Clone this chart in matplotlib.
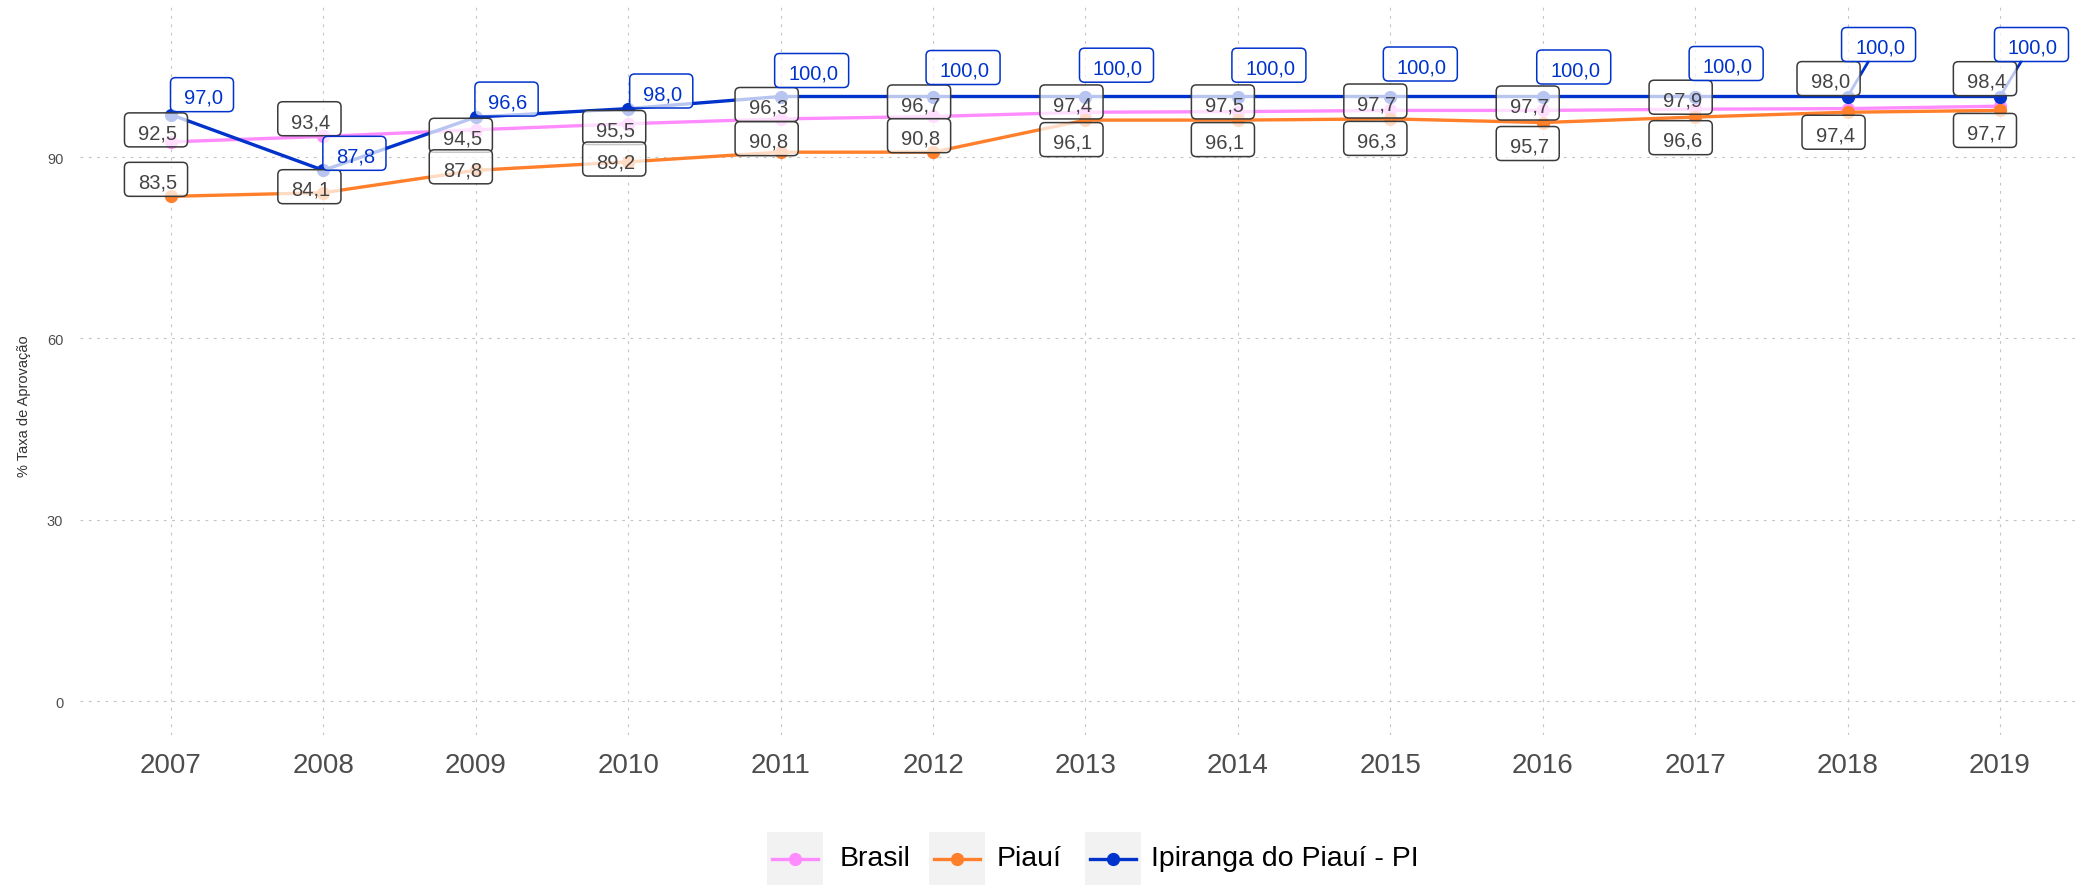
import matplotlib
matplotlib.use("Agg")
import matplotlib.pyplot as plt
from matplotlib.patches import FancyBboxPatch, Rectangle
from matplotlib.lines import Line2D
from matplotlib.transforms import IdentityTransform

plt.rcParams['font.family'] = ['Liberation Sans', 'DejaVu Sans']
plt.rcParams['lines.scale_dashes'] = False

# ------------------ Dados ------------------
anos = [2007, 2008, 2009, 2010, 2011, 2012, 2013, 2014, 2015, 2016, 2017, 2018, 2019]
brasil = [92.5, 93.4, 94.5, 95.5, 96.3, 96.7, 97.4, 97.5, 97.7, 97.7, 97.9, 98.0, 98.4]
piaui = [83.5, 84.1, 87.8, 89.2, 90.8, 90.8, 96.1, 96.1, 96.3, 95.7, 96.6, 97.4, 97.7]
ipiranga = [97.0, 87.8, 96.6, 98.0, 100.0, 100.0, 100.0, 100.0, 100.0, 100.0, 100.0, 100.0, 100.0]
nomes = ['Brasil', 'Piauí', 'Ipiranga do Piauí - PI']
cores = ['#FF8CFF', '#FF7F2A', '#0033CC']

# deslocamento dos rótulos (pixels, x para a direita, y para cima)
desl_brasil = [(-15, 12), (-14, 17.7), (-15, -5.5), (-14, -3.8), (-14, 14.4), (-14, 14.5), (-14, 10.3),
               (-15, 9.7), (-15, 9.4), (-15, 7.4), (-14.5, 12), (-19, 30), (-15, 27.5)]
desl_piaui = [(-15, 17), (-14, 6), (-15, 3.5), (-14, 2.8), (-14, 13.5), (-14, 16.5), (-14, -19.5),
              (-15, -19.5), (-15, -19.5), (-15, -21), (-14.5, -20.6), (-14, -20), (-15, -20)]
desl_ipiranga = [(31, 20), (31, 17), (30.7, 18), (33, 17.6), (31, 26), (30, 29), (31, 31.3),
                 (31, 31.3), (30, 32.5), (31, 29.5), (31, 33), (31, 52), (31.5, 52)]

W, H = 2080, 887
fig = plt.figure(figsize=(W / 100, H / 100), dpi=100)
ax = fig.add_axes([80 / W, 1 - 736 / H, 2000 / W, 729 / H])
ax.set_xlim(2006.403, 2019.525)
ax.set_ylim(-5.54, 114.96)

for s in ax.spines.values():
    s.set_visible(False)
ax.grid(True, color='#C4C4C4', linestyle=(0, (2, 4)), linewidth=0.8)
ax.set_axisbelow(True)
ax.set_xticks(anos)
ax.set_xticklabels([str(a) for a in anos])
ax.set_yticks([0, 30, 60, 90])
ax.tick_params(axis='x', length=0, labelsize=20, labelcolor='#4D4D4D', pad=12.5)
ax.tick_params(axis='y', length=0, labelsize=10.5, labelcolor='#4D4D4D', pad=12)

series = [brasil, piaui, ipiranga]
for vals, cor in zip(series, cores):
    ax.plot(anos, vals, color=cor, lw=2.4, zorder=2)
for vals, cor in zip(series, cores):
    ax.plot(anos, vals, 'o', color=cor, markersize=8.5, zorder=3)

# ------------------ Rótulos ------------------
rotulos = []
estilos = [(desl_brasil, '#444444', '#3A3A3A'),
           (desl_piaui, '#444444', '#3A3A3A'),
           (desl_ipiranga, '#0033CC', '#0033CC')]
for vals, (desl, cor_txt, cor_borda) in zip(series, estilos):
    for ano, v, (dx, dy) in zip(anos, vals, desl):
        t = ax.annotate(f'{v:.1f}'.replace('.', ','), (ano, v), xytext=(dx + 1.5, dy - 2.8),
                        textcoords='offset pixels', ha='center', va='center',
                        fontsize=14.5, color=cor_txt, zorder=6)
        rotulos.append((t, cor_borda, ano, v))

fig.canvas.draw()
r = fig.canvas.get_renderer()
for t, borda, ano, v in rotulos:
    bb = t.get_window_extent(r)
    cx = (bb.x0 + bb.x1) / 2 - 1.5
    cy = (bb.y0 + bb.y1) / 2 + 2.8
    w, h = bb.width + 24, 34
    caixa = FancyBboxPatch((cx - w / 2, cy - h / 2), w, h,
                           boxstyle='round,pad=0,rounding_size=5',
                           transform=IdentityTransform(), facecolor=(1, 1, 1, 0.72),
                           edgecolor=borda, lw=1.1, zorder=5)
    ax.add_artist(caixa)
    # segmento ligando o ponto ao rótulo quando ele fica afastado
    px, py = ax.transData.transform((ano, v))
    ddx, ddy = px - cx, py - cy
    k = min((w / 2) / abs(ddx) if ddx else 1e9, (h / 2) / abs(ddy) if ddy else 1e9)
    if k < 1:
        ex, ey = cx + k * ddx, cy + k * ddy
        if ((px - ex) ** 2 + (py - ey) ** 2) ** 0.5 > 30:
            ax.add_artist(Line2D([px, ex], [py, ey], transform=IdentityTransform(),
                                 color=borda, lw=2, zorder=4))

# ------------------ Eixo y e legenda ------------------
fig.text(24 / W, 1 - 406 / H, '% Taxa de Aprovação', rotation=90, ha='center', va='center',
         fontsize=10.5, color='#333333')

chaves_x = [794.5, 957, 1113]
textos_x = [840, 997, 1151]
for nome, cor, kx, tx in zip(nomes, cores, chaves_x, textos_x):
    fig.add_artist(Rectangle((kx - 28, 1), 56, 53, transform=IdentityTransform(),
                             facecolor='#F2F2F2', edgecolor='none'))
    fig.add_artist(Line2D([kx - 23, kx + 23], [27.5, 27.5], transform=IdentityTransform(),
                          color=cor, lw=2.4))
    fig.add_artist(Line2D([kx], [27.5], transform=IdentityTransform(), marker='o',
                          markersize=8.5, color=cor))
    fig.text(tx / W, 27.5 / H, nome, ha='left', va='center', fontsize=20.5, color='black')

fig.savefig('out.png', dpi=100)
